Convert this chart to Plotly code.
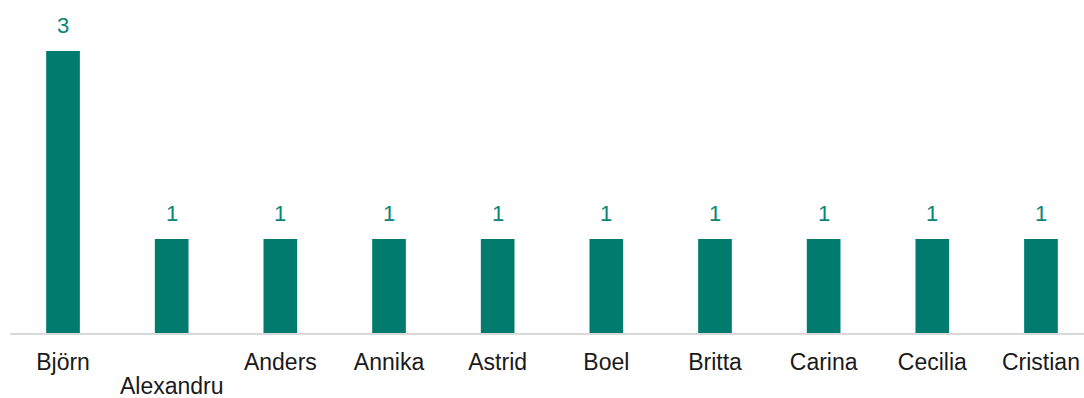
import plotly.graph_objects as go

names = ["Björn", "Alexandru", "Anders", "Annika", "Astrid", "Boel", "Britta", "Carina", "Cecilia", "Cristian"]
counts = [3, 1, 1, 1, 1, 1, 1, 1, 1, 1]
# Alexandru is dropped to a second row so it doesn't collide with its neighbours
staggered = ["Alexandru"]

bar_color = "#007B6E"
label_color = "#0A8676"
font_family = "Liberation Sans, Arial"

fig = go.Figure(
    go.Bar(
        x=names,
        y=counts,
        marker=dict(color=bar_color, line_width=0),
        cliponaxis=False,
        showlegend=False,
    )
)

# value labels sit a bit higher above the bars than plotly's "outside" text
for name, c in zip(names, counts):
    fig.add_annotation(
        x=name,
        y=c,
        text=str(c),
        showarrow=False,
        yanchor="bottom",
        yshift=11,
        font=dict(color=label_color, size=22, family=font_family),
    )

for name in staggered:
    fig.add_annotation(
        x=name,
        y=0,
        text=name,
        showarrow=False,
        yanchor="middle",
        yshift=-53,
        borderpad=0,
        font=dict(color="#1A1A1A", size=23, family=font_family),
    )

fig.update_layout(
    width=1084,
    height=398,
    margin=dict(l=10, r=0, t=20, b=65),
    paper_bgcolor="white",
    plot_bgcolor="white",
    bargap=0.69,
    font=dict(family=font_family, size=23, color="#1A1A1A"),
)

fig.update_xaxes(
    type="category",
    range=[-0.488, 9.396],
    tickmode="array",
    tickvals=names,
    ticktext=["" if n in staggered else n for n in names],
    showline=True,
    linecolor="#D9D9D9",
    linewidth=2,
    showgrid=False,
    zeroline=False,
    ticks="",
    ticklabelstandoff=7,
)

fig.update_yaxes(
    range=[0, 313 / 94],
    visible=False,
    showgrid=False,
    zeroline=False,
)

# drop the default 8px body margin so the 1084x398 figure fills the window exactly
fig.write_html(
    "out.html",
    config={"displayModeBar": False},
    post_script="document.body.style.margin='0';",
)
